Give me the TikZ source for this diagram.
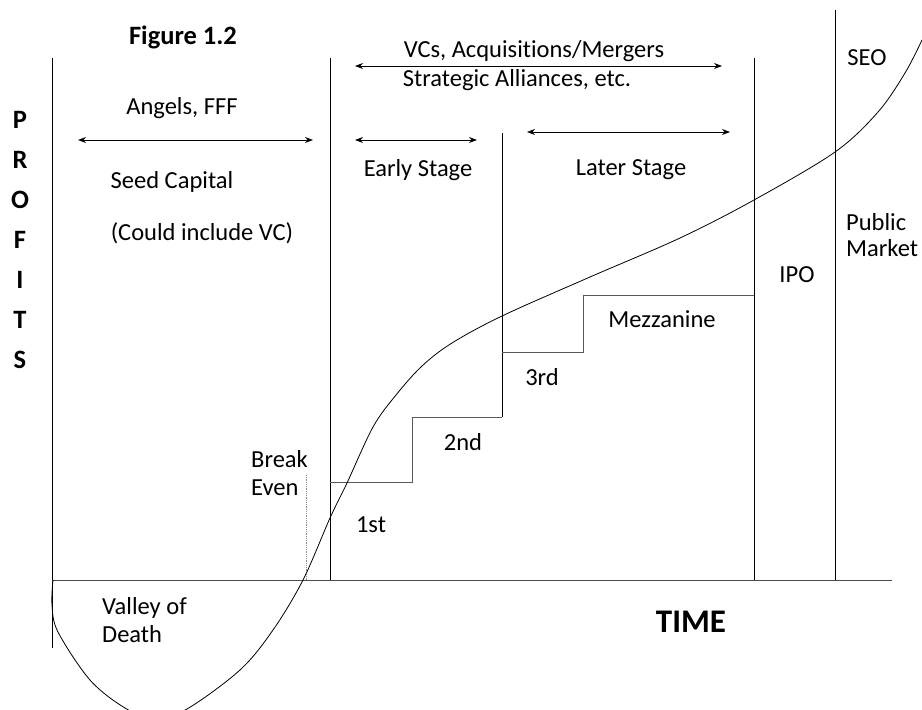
\documentclass[tikz,border=0pt]{standalone}
\usepackage{fontspec}
\setmainfont{Carlito}[Ligatures=NoCommon]
\usetikzlibrary{arrows.meta}
\tikzset{
  vline/.style={draw=black, line width=0.8pt},
  stepline/.style={draw=black!65, line width=0.9pt},
  axisline/.style={draw=black!70, line width=0.9pt},
  span/.style={draw=black, line width=0.9pt, {Stealth[length=8pt,width=6pt]}-{Stealth[length=8pt,width=6pt]}},
  lbl/.style={inner sep=0pt, font=\fontsize{24.5}{28}\selectfont},
  blbl/.style={inner sep=0pt, font=\fontsize{26.5}{30}\selectfont\bfseries},
  curveline/.style={draw=black, line width=0.8pt}
}
\begin{document}
\begin{tikzpicture}[x=1pt,y=-1pt]
\useasboundingbox (0,0) rectangle (922,710);
\clip (0,0) rectangle (922,710);
% coordinates
\coordinate (ax0) at (52,58);
\coordinate (ax1) at (52,648);
\coordinate (h0) at (52,580);
\coordinate (h1) at (892,580);
\coordinate (v1t) at (330,58);
\coordinate (v1b) at (330,580);
\coordinate (v3t) at (754,58);
\coordinate (v3b) at (754,580);
\coordinate (v4t) at (835,10);
\coordinate (v4b) at (835,580);
\coordinate (s2t) at (502,133);
\coordinate (s2a) at (502,417);
\coordinate (s2b) at (412,417);
\coordinate (s2c) at (412,482);
\coordinate (s2d) at (330,482);
\coordinate (s3a) at (502,352);
\coordinate (s3b) at (583,352);
\coordinate (s3c) at (583,295);
\coordinate (s3d) at (754,295);
\coordinate (beT) at (306,475);
\coordinate (beB) at (306,580);
\coordinate (aA) at (78,140);
\coordinate (aB) at (313,140);
\coordinate (vA) at (355,66);
\coordinate (vB) at (722,66);
\coordinate (eA) at (355,140);
\coordinate (eB) at (477,140);
\coordinate (lA) at (527,132);
\coordinate (lB) at (730,132);

% axes and vertical lines
\draw[vline] (ax0) -- (ax1);
\draw[axisline] (h0) -- (h1);
\draw[vline] (v1t) -- (v1b);
\draw[vline] (v3t) -- (v3b);
\draw[vline] (v4t) -- (v4b);
\draw[vline] (s2t) -- (s2a);
\draw[stepline] (s2a) -- (s2b) -- (s2c) -- (s2d);
\draw[stepline] (s3a) -- (s3b) -- (s3c) -- (s3d);
\draw[black!45, line width=0.8pt, densely dotted] (beT) -- (beB);

% arrows
\draw[span] (aA) -- (aB);
\draw[span] (vA) -- (vB);
\draw[span] (eA) -- (eB);
\draw[span] (lA) -- (lB);

% curve
\draw[curveline] plot[smooth, tension=0.55] coordinates {
 (53,580) (52,605) (58,632) (90,680) (125,708) (155,719) (187,709) (240,670)
 (273,630) (303,580) (330,518) (347,483) (373,427) (396,395) (422,366) (452,343)
 (502,316) (590,277) (680,238) (754,200) (835,152) (878,112) (905,73) (922,40)};

% labels
\node[blbl] (fig) at (183,37) {Figure 1.2};
\node[blbl] (pP) at (20,120) {P};
\node[blbl] (pR) at (20,160) {R};
\node[blbl] (pO) at (20,200) {O};
\node[blbl] (pF) at (20,240) {F};
\node[blbl] (pI) at (20,280) {I};
\node[blbl] (pT) at (20,320) {T};
\node[blbl] (pS) at (20,360) {S};
\node[lbl] (angels) at (182,108) {Angels, FFF};
\node[lbl] (seed) at (172,182) {Seed Capital};
\node[lbl] (could) at (202,233) {(Could include VC)};
\node[lbl] (vcs) at (534,51) {VCs, Acquisitions/Mergers};
\node[lbl] (strat) at (517,80) {Strategic Alliances, etc.};
\node[lbl] (early) at (418,170) {Early Stage};
\node[lbl] (later) at (631,170) {Later Stage};
\node[lbl] (seo) at (867,58) {SEO};
\node[lbl, anchor=west, align=left] (pub) at (846,235) {Public\\[-2pt]Market};
\node[lbl] (ipo) at (797,275) {IPO};
\node[lbl] (mezz) at (662,319) {Mezzanine};
\node[lbl] (third) at (542,377) {3rd};
\node[lbl] (second) at (463,442) {2nd};
\node[lbl] (first) at (371,525) {1st};
\node[lbl, anchor=west, align=left] (be) at (251,473) {Break\\[0pt]Even};
\node[lbl, anchor=west, align=left] (valley) at (102,620) {Valley of\\[0pt]Death};
\node[inner sep=0pt, font=\fontsize{33}{37}\selectfont\bfseries] (time) at (691,622) {TIME};
\end{tikzpicture}
\end{document}
